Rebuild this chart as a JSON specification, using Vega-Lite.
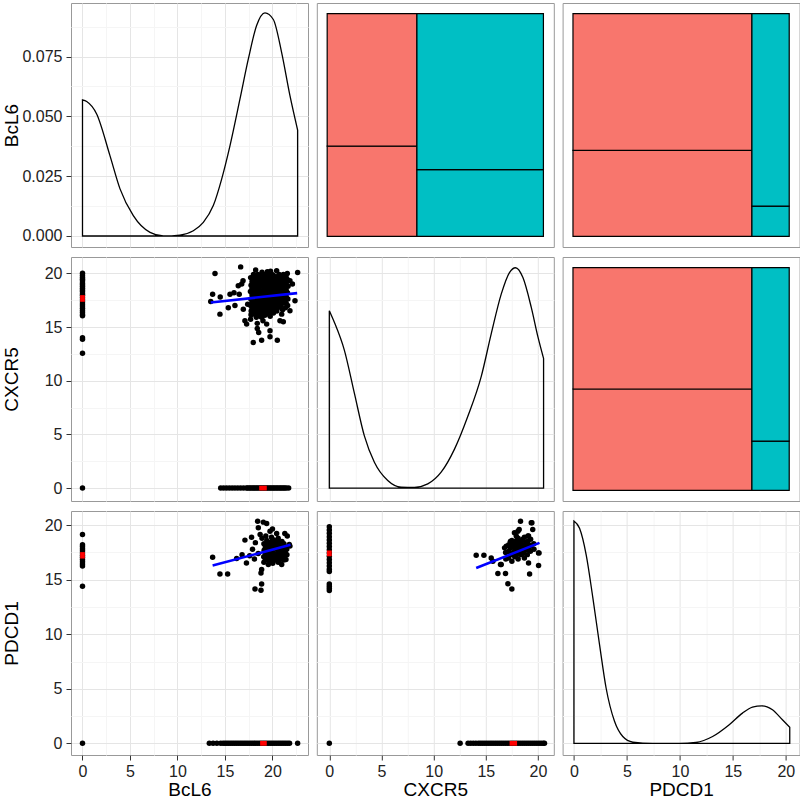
{
"$schema": "https://vega.github.io/schema/vega-lite/v6.json",
"padding": {"left": 1, "top": 2, "right": 0, "bottom": 0},
"config": {
  "view": {"stroke": "#999999", "strokeWidth": 1},
  "axis": {"labelFont": "Liberation Sans", "titleFont": "Liberation Sans", "labelFontSize": 16, "titleFontSize": 19, "titleFontWeight": "normal", "labelColor": "#222222", "titleColor": "#000000", "tickColor": "#333333", "tickSize": 5, "domain": false}
},
"datasets": {
  "d11": [{"x":0,"y":0.0569},{"x":0.44,"y":0.0562},{"x":1.49,"y":0.0510},{"x":2.89,"y":0.0336},{"x":3.95,"y":0.0197},{"x":5.35,"y":0.0085},{"x":7.11,"y":0.0015},{"x":8.51,"y":0.0},{"x":10.26,"y":0.0004},{"x":11.67,"y":0.0022},{"x":12.72,"y":0.0057},{"x":13.77,"y":0.0127},{"x":14.65,"y":0.0238},{"x":15.53,"y":0.0378},{"x":16.58,"y":0.0573},{"x":17.46,"y":0.0740},{"x":18.33,"y":0.0880},{"x":19.21,"y":0.0933},{"x":20.09,"y":0.0905},{"x":20.96,"y":0.0768},{"x":21.84,"y":0.0587},{"x":22.65,"y":0.0443}],
  "d22": [{"x":0,"y":16.52},{"x":0.48,"y":15.45},{"x":1.44,"y":12.85},{"x":2.4,"y":8.84},{"x":3.36,"y":4.86},{"x":4.32,"y":2.4},{"x":5.6,"y":0.7},{"x":6.88,"y":0.08},{"x":8.16,"y":0.06},{"x":9.44,"y":0.39},{"x":10.72,"y":1.48},{"x":12.0,"y":3.63},{"x":13.28,"y":6.69},{"x":14.56,"y":10.38},{"x":15.52,"y":14.36},{"x":16.48,"y":18.06},{"x":17.27,"y":20.07},{"x":17.85,"y":20.52},{"x":18.56,"y":19.6},{"x":19.36,"y":16.83},{"x":20.0,"y":14.08},{"x":20.54,"y":12.07}],
  "d33": [{"x":0,"y":20.38},{"x":0.53,"y":19.71},{"x":1.16,"y":17.26},{"x":1.79,"y":13.31},{"x":2.42,"y":9.03},{"x":3.04,"y":5.05},{"x":3.83,"y":2.02},{"x":4.61,"y":0.63},{"x":5.56,"y":0.12},{"x":7.44,"y":0},{"x":9.95,"y":0},{"x":11.52,"y":0.09},{"x":13.09,"y":0.63},{"x":14.66,"y":1.71},{"x":15.91,"y":2.77},{"x":16.85,"y":3.32},{"x":17.73,"y":3.44},{"x":18.74,"y":3.08},{"x":19.68,"y":2.16},{"x":20.37,"y":1.47}],
  "m12": [{"g":"a","x":0,"x2":0.415,"y":0,"y2":0.405},{"g":"a","x":0,"x2":0.415,"y":0.405,"y2":1},{"g":"b","x":0.415,"x2":1,"y":0,"y2":0.30},{"g":"b","x":0.415,"x2":1,"y":0.30,"y2":1}],
  "m13": [{"g":"a","x":0,"x2":0.8275,"y":0,"y2":0.386},{"g":"a","x":0,"x2":0.8275,"y":0.386,"y2":1},{"g":"b","x":0.8275,"x2":1,"y":0,"y2":0.136},{"g":"b","x":0.8275,"x2":1,"y":0.136,"y2":1}],
  "m23": [{"g":"a","x":0,"x2":0.8275,"y":0,"y2":0.455},{"g":"a","x":0,"x2":0.8275,"y":0.455,"y2":1},{"g":"b","x":0.8275,"x2":1,"y":0,"y2":0.221},{"g":"b","x":0.8275,"x2":1,"y":0.221,"y2":1}],
  "p21": [
    {"x":0,"y":20.0},{"x":0,"y":19.8},{"x":0,"y":19.6},{"x":0,"y":19.45},{"x":0,"y":19.3},{"x":0,"y":19.1},{"x":0,"y":18.95},{"x":0,"y":18.8},{"x":0,"y":18.6},{"x":0,"y":18.45},{"x":0,"y":18.3},{"x":0,"y":18.1},{"x":0,"y":17.95},{"x":0,"y":17.75},{"x":0,"y":17.55},{"x":0,"y":17.35},{"x":0,"y":17.15},{"x":0,"y":16.95},{"x":0,"y":16.75},{"x":0,"y":16.55},{"x":0,"y":16.35},{"x":0,"y":16.15},{"x":0,"y":16.05},{"x":0,"y":14.0},{"x":0,"y":13.85},{"x":0,"y":12.55},{"x":0,"y":0},
    {"x":14.55,"y":0},{"x":14.85,"y":0},{"x":15.15,"y":0},{"x":15.45,"y":0},{"x":15.75,"y":0},{"x":16.05,"y":0},{"x":16.35,"y":0},{"x":16.65,"y":0},{"x":16.95,"y":0},{"x":17.25,"y":0},{"x":17.4,"y":0},{"x":17.55,"y":0},{"x":17.7,"y":0},{"x":17.85,"y":0},{"x":18.0,"y":0},{"x":18.15,"y":0},{"x":18.3,"y":0},{"x":18.45,"y":0},{"x":18.6,"y":0},{"x":18.75,"y":0},{"x":18.9,"y":0},{"x":19.05,"y":0},{"x":19.2,"y":0},{"x":19.35,"y":0},{"x":19.5,"y":0},{"x":19.65,"y":0},{"x":19.8,"y":0},{"x":19.95,"y":0},{"x":20.1,"y":0},{"x":20.25,"y":0},{"x":20.4,"y":0},{"x":20.55,"y":0},{"x":20.7,"y":0},{"x":20.85,"y":0},{"x":21.0,"y":0},{"x":21.15,"y":0},{"x":21.3,"y":0},{"x":21.45,"y":0},{"x":21.7,"y":0},
    {"x":13.95,"y":19.98},{"x":16.65,"y":20.6},{"x":13.7,"y":18.06},{"x":13.5,"y":17.37},{"x":14.47,"y":16.2},{"x":14.5,"y":17.8},{"x":15.35,"y":16.8},{"x":15.95,"y":18.2},{"x":16.5,"y":18.06},{"x":16.76,"y":19.0},{"x":16.9,"y":19.3},{"x":16.05,"y":17.0},{"x":16.93,"y":16.66},{"x":17.1,"y":15.58},{"x":17.28,"y":15.27},{"x":18.23,"y":20.3},{"x":19.46,"y":20.14},{"x":20.44,"y":20.23},{"x":21.56,"y":19.98},{"x":22.65,"y":20.07},{"x":20.79,"y":15.58},{"x":21.14,"y":15.5},{"x":17.98,"y":13.56},{"x":18.86,"y":13.77},{"x":19.74,"y":14.65},{"x":19.74,"y":14.1},{"x":20.51,"y":13.77},{"x":18.4,"y":14.87},{"x":18.4,"y":15.34},{"x":17.7,"y":15.73},{"x":19.0,"y":15.58},{"x":15.53,"y":18.06},{"x":16.4,"y":18.85},{"x":17.39,"y":17.13},{"x":17.74,"y":16.14},{"x":18.0,"y":16.2},{"x":18.55,"y":14.49},{"x":19.39,"y":15.27},{"x":20.97,"y":16.2},{"x":21.84,"y":16.51},{"x":22.37,"y":17.44},{"x":22.1,"y":19.0},{"x":21.84,"y":19.3},
    {"x":17.7,"y":19.6},{"x":17.75,"y":18.9},{"x":17.68,"y":18.3},{"x":17.72,"y":17.6},{"x":17.7,"y":17.0},{"x":17.76,"y":16.5},
    {"x":18.0,"y":19.9},{"x":18.05,"y":19.3},{"x":17.98,"y":18.7},{"x":18.02,"y":18.1},{"x":18.0,"y":17.4},{"x":18.06,"y":16.8},
    {"x":18.3,"y":19.5},{"x":18.34,"y":19.0},{"x":18.28,"y":18.4},{"x":18.32,"y":17.8},{"x":18.3,"y":17.2},{"x":18.35,"y":16.6},{"x":18.3,"y":15.9},
    {"x":18.6,"y":19.8},{"x":18.64,"y":19.2},{"x":18.58,"y":18.6},{"x":18.62,"y":18.0},{"x":18.6,"y":17.5},{"x":18.66,"y":16.9},{"x":18.6,"y":16.3},
    {"x":18.9,"y":20.1},{"x":18.94,"y":19.5},{"x":18.88,"y":18.9},{"x":18.92,"y":18.3},{"x":18.9,"y":17.7},{"x":18.95,"y":17.1},{"x":18.9,"y":16.5},{"x":18.86,"y":15.9},
    {"x":19.2,"y":19.7},{"x":19.24,"y":19.1},{"x":19.18,"y":18.5},{"x":19.22,"y":17.9},{"x":19.2,"y":17.3},{"x":19.26,"y":16.8},{"x":19.2,"y":16.1},
    {"x":19.5,"y":19.9},{"x":19.54,"y":19.3},{"x":19.48,"y":18.8},{"x":19.52,"y":18.2},{"x":19.5,"y":17.6},{"x":19.56,"y":17.0},{"x":19.5,"y":16.4},
    {"x":19.8,"y":20.2},{"x":19.84,"y":19.6},{"x":19.78,"y":19.0},{"x":19.82,"y":18.4},{"x":19.8,"y":17.8},{"x":19.86,"y":17.2},{"x":19.8,"y":16.6},{"x":19.76,"y":16.0},
    {"x":20.1,"y":19.8},{"x":20.14,"y":19.2},{"x":20.08,"y":18.6},{"x":20.12,"y":18.0},{"x":20.1,"y":17.4},{"x":20.16,"y":16.9},{"x":20.1,"y":16.3},
    {"x":20.4,"y":19.5},{"x":20.44,"y":18.9},{"x":20.38,"y":18.3},{"x":20.42,"y":17.7},{"x":20.4,"y":17.1},{"x":20.46,"y":16.5},
    {"x":20.7,"y":19.9},{"x":20.74,"y":19.3},{"x":20.68,"y":18.7},{"x":20.72,"y":18.1},{"x":20.7,"y":17.5},{"x":20.76,"y":16.9},
    {"x":21.0,"y":19.6},{"x":21.04,"y":19.0},{"x":20.98,"y":18.4},{"x":21.02,"y":17.8},{"x":21.0,"y":17.2},{"x":21.06,"y":16.6},
    {"x":21.3,"y":19.8},{"x":21.34,"y":19.2},{"x":21.28,"y":18.6},{"x":21.32,"y":18.0},{"x":21.3,"y":17.4},{"x":21.36,"y":16.8},
    {"x":21.6,"y":19.4},{"x":21.64,"y":18.8},{"x":21.58,"y":18.2},{"x":21.62,"y":17.6},{"x":21.6,"y":17.0},
    {"x":17.85,"y":19.25},{"x":17.85,"y":18.6},{"x":17.85,"y":18.0},{"x":17.85,"y":17.3},{"x":17.85,"y":16.7},
    {"x":18.15,"y":19.6},{"x":18.15,"y":19.0},{"x":18.15,"y":18.4},{"x":18.15,"y":17.7},{"x":18.15,"y":17.1},{"x":18.15,"y":16.4},
    {"x":18.45,"y":19.9},{"x":18.45,"y":19.3},{"x":18.45,"y":18.7},{"x":18.45,"y":18.1},{"x":18.45,"y":17.5},{"x":18.45,"y":16.9},{"x":18.45,"y":16.2},
    {"x":18.75,"y":19.5},{"x":18.75,"y":18.9},{"x":18.75,"y":18.3},{"x":18.75,"y":17.8},{"x":18.75,"y":17.2},{"x":18.75,"y":16.6},{"x":18.75,"y":16.0},
    {"x":19.05,"y":19.9},{"x":19.05,"y":19.3},{"x":19.05,"y":18.7},{"x":19.05,"y":18.1},{"x":19.05,"y":17.5},{"x":19.05,"y":16.9},{"x":19.05,"y":16.3},
    {"x":19.35,"y":19.4},{"x":19.35,"y":18.8},{"x":19.35,"y":18.2},{"x":19.35,"y":17.6},{"x":19.35,"y":17.0},{"x":19.35,"y":16.6},
    {"x":19.65,"y":19.6},{"x":19.65,"y":19.0},{"x":19.65,"y":18.5},{"x":19.65,"y":17.9},{"x":19.65,"y":17.3},{"x":19.65,"y":16.7},{"x":19.65,"y":16.2},
    {"x":19.95,"y":19.9},{"x":19.95,"y":19.3},{"x":19.95,"y":18.7},{"x":19.95,"y":18.1},{"x":19.95,"y":17.5},{"x":19.95,"y":16.9},
    {"x":20.25,"y":19.5},{"x":20.25,"y":18.9},{"x":20.25,"y":18.3},{"x":20.25,"y":17.7},{"x":20.25,"y":17.1},{"x":20.25,"y":16.6},
    {"x":20.55,"y":19.7},{"x":20.55,"y":19.1},{"x":20.55,"y":18.5},{"x":20.55,"y":17.9},{"x":20.55,"y":17.3},{"x":20.55,"y":16.8},
    {"x":20.85,"y":19.4},{"x":20.85,"y":18.8},{"x":20.85,"y":18.2},{"x":20.85,"y":17.6},{"x":20.85,"y":17.0},
    {"x":21.15,"y":19.9},{"x":21.15,"y":19.3},{"x":21.15,"y":18.7},{"x":21.15,"y":18.1},{"x":21.15,"y":17.5},
    {"x":21.45,"y":19.6},{"x":21.45,"y":19.0},{"x":21.45,"y":18.4},{"x":21.45,"y":17.8},{"x":21.45,"y":17.2}
  ],
  "p31": [
    {"x":0,"y":19.15},{"x":0,"y":18.2},{"x":0,"y":18.05},{"x":0,"y":17.85},{"x":0,"y":17.65},{"x":0,"y":17.45},{"x":0,"y":17.25},{"x":0,"y":17.05},{"x":0,"y":16.85},{"x":0,"y":16.65},{"x":0,"y":16.45},{"x":0,"y":16.25},{"x":0,"y":14.4},{"x":0,"y":0},
    {"x":13.35,"y":0},{"x":13.75,"y":0},{"x":14.15,"y":0},{"x":14.55,"y":0},{"x":14.8,"y":0},{"x":15.0,"y":0},{"x":15.2,"y":0},{"x":15.4,"y":0},{"x":15.6,"y":0},{"x":15.8,"y":0},{"x":16.0,"y":0},{"x":16.2,"y":0},{"x":16.4,"y":0},{"x":16.6,"y":0},{"x":16.8,"y":0},{"x":17.0,"y":0},{"x":17.2,"y":0},{"x":17.4,"y":0},{"x":17.6,"y":0},{"x":17.8,"y":0},{"x":18.0,"y":0},{"x":18.2,"y":0},{"x":18.4,"y":0},{"x":18.6,"y":0},{"x":18.8,"y":0},{"x":19.0,"y":0},{"x":19.2,"y":0},{"x":19.4,"y":0},{"x":19.6,"y":0},{"x":19.8,"y":0},{"x":20.0,"y":0},{"x":20.2,"y":0},{"x":20.4,"y":0},{"x":20.6,"y":0},{"x":20.8,"y":0},{"x":21.0,"y":0},{"x":21.2,"y":0},{"x":21.4,"y":0},{"x":21.6,"y":0},{"x":21.8,"y":0},{"x":22.65,"y":0},
    {"x":13.7,"y":17.07},{"x":14.47,"y":15.53},{"x":15.28,"y":15.53},{"x":16.23,"y":16.94},{"x":17.1,"y":18.63},{"x":17.26,"y":16.54},{"x":18.16,"y":14.15},{"x":18.79,"y":14.03},{"x":18.86,"y":14.61},{"x":18.79,"y":15.62},{"x":18.86,"y":15.93},{"x":18.44,"y":20.37},{"x":19.04,"y":20.28},{"x":19.39,"y":20.16},{"x":18.51,"y":19.76},{"x":18.7,"y":19.15},{"x":19.74,"y":19.45},{"x":20.0,"y":19.66},{"x":20.44,"y":19.24},{"x":21.3,"y":19.24},{"x":21.56,"y":19.0},{"x":21.77,"y":18.24},{"x":21.84,"y":18.08},{"x":20.97,"y":16.39},{"x":21.42,"y":16.85},{"x":19.56,"y":16.39},
    {"x":16.8,"y":17.3},{"x":17.6,"y":17.2},{"x":17.9,"y":17.8},{"x":18.2,"y":18.4},{"x":18.1,"y":16.9},{"x":18.5,"y":17.4},{"x":17.8,"y":18.9},{"x":18.9,"y":18.8},{"x":19.3,"y":19.0},{"x":19.9,"y":18.9},{"x":20.6,"y":18.8},{"x":21.0,"y":18.5},
    {"x":19.1,"y":18.3},{"x":19.12,"y":17.7},{"x":19.08,"y":17.1},{"x":19.1,"y":16.6},
    {"x":19.4,"y":18.6},{"x":19.42,"y":18.0},{"x":19.38,"y":17.4},{"x":19.4,"y":16.9},
    {"x":19.7,"y":18.4},{"x":19.72,"y":17.8},{"x":19.68,"y":17.2},{"x":19.7,"y":16.7},
    {"x":20.0,"y":18.7},{"x":20.02,"y":18.1},{"x":19.98,"y":17.5},{"x":20.0,"y":17.0},{"x":20.03,"y":16.5},
    {"x":20.3,"y":18.4},{"x":20.32,"y":17.9},{"x":20.28,"y":17.3},{"x":20.3,"y":16.8},
    {"x":20.6,"y":18.2},{"x":20.62,"y":17.6},{"x":20.58,"y":17.1},{"x":20.6,"y":16.6},
    {"x":20.9,"y":18.0},{"x":20.92,"y":17.5},{"x":20.88,"y":17.0},
    {"x":21.2,"y":18.3},{"x":21.22,"y":17.7},{"x":21.18,"y":17.2},{"x":21.2,"y":16.8},
    {"x":21.5,"y":17.8},{"x":21.52,"y":17.3},
    {"x":19.25,"y":18.0},{"x":19.25,"y":17.4},{"x":19.25,"y":16.8},
    {"x":19.55,"y":18.2},{"x":19.55,"y":17.6},{"x":19.55,"y":17.0},
    {"x":19.85,"y":18.4},{"x":19.85,"y":17.8},{"x":19.85,"y":17.2},{"x":19.85,"y":16.8},
    {"x":20.15,"y":18.0},{"x":20.15,"y":17.4},{"x":20.15,"y":16.9},
    {"x":20.45,"y":18.6},{"x":20.45,"y":17.8},{"x":20.45,"y":17.2},
    {"x":20.75,"y":18.4},{"x":20.75,"y":17.8},{"x":20.75,"y":17.3},{"x":20.75,"y":16.8},
    {"x":21.05,"y":17.9},{"x":21.05,"y":17.4},
    {"x":21.35,"y":18.0},{"x":21.35,"y":17.5}
  ],
  "p32": [
    {"x":0,"y":19.85},{"x":0,"y":19.55},{"x":0,"y":19.25},{"x":0,"y":18.95},{"x":0,"y":18.65},{"x":0,"y":18.35},{"x":0,"y":18.05},{"x":0,"y":17.75},{"x":0,"y":17.45},{"x":0,"y":17.15},{"x":0,"y":16.85},{"x":0,"y":16.55},{"x":0,"y":16.25},{"x":0,"y":15.95},{"x":0,"y":15.75},{"x":0,"y":14.6},{"x":0,"y":14.4},{"x":0,"y":14.2},{"x":0,"y":14.0},{"x":0,"y":0},
    {"x":12.54,"y":0},{"x":13.3,"y":0},{"x":13.55,"y":0},{"x":13.8,"y":0},{"x":14.05,"y":0},{"x":14.3,"y":0},{"x":14.5,"y":0},{"x":14.7,"y":0},{"x":14.9,"y":0},{"x":15.1,"y":0},{"x":15.3,"y":0},{"x":15.5,"y":0},{"x":15.7,"y":0},{"x":15.9,"y":0},{"x":16.1,"y":0},{"x":16.3,"y":0},{"x":16.5,"y":0},{"x":16.7,"y":0},{"x":16.9,"y":0},{"x":17.1,"y":0},{"x":17.3,"y":0},{"x":17.5,"y":0},{"x":17.7,"y":0},{"x":17.9,"y":0},{"x":18.1,"y":0},{"x":18.3,"y":0},{"x":18.5,"y":0},{"x":18.7,"y":0},{"x":18.9,"y":0},{"x":19.1,"y":0},{"x":19.3,"y":0},{"x":19.5,"y":0},{"x":19.7,"y":0},{"x":19.9,"y":0},{"x":20.1,"y":0},{"x":20.3,"y":0},{"x":20.5,"y":0},{"x":20.63,"y":0},
    {"x":14.08,"y":17.25},{"x":14.82,"y":17.25},{"x":18.33,"y":20.37},{"x":19.42,"y":20.22},{"x":19.5,"y":19.6},{"x":19.1,"y":19.0},{"x":18.08,"y":19.45},{"x":17.92,"y":19.0},{"x":17.44,"y":18.38},{"x":16.96,"y":18.08},{"x":20.06,"y":17.46},{"x":20.06,"y":16.3},{"x":19.1,"y":16.54},{"x":19.2,"y":15.53},{"x":16.16,"y":15.56},{"x":16.89,"y":15.56},{"x":16.41,"y":16.39},{"x":15.52,"y":17.0},{"x":17.12,"y":14.64},{"x":17.5,"y":14.15},
    {"x":15.68,"y":16.7},{"x":16.48,"y":16.39},{"x":16.8,"y":17.92},{"x":17.75,"y":19.3},{"x":18.2,"y":19.6},{"x":19.04,"y":19.0},{"x":19.36,"y":20.22},{"x":20.1,"y":17.46},
    {"x":16.9,"y":17.5},{"x":16.92,"y":16.9},
    {"x":17.2,"y":18.2},{"x":17.22,"y":17.6},{"x":17.18,"y":17.0},
    {"x":17.5,"y":18.6},{"x":17.52,"y":18.0},{"x":17.48,"y":17.3},{"x":17.5,"y":16.7},
    {"x":17.8,"y":18.3},{"x":17.82,"y":17.7},{"x":17.78,"y":17.1},
    {"x":18.1,"y":18.8},{"x":18.12,"y":18.1},{"x":18.08,"y":17.5},{"x":18.1,"y":16.9},
    {"x":18.4,"y":18.5},{"x":18.42,"y":17.9},{"x":18.38,"y":17.3},
    {"x":18.7,"y":18.9},{"x":18.72,"y":18.2},{"x":18.68,"y":17.6},{"x":18.7,"y":17.0},
    {"x":19.0,"y":18.5},{"x":19.02,"y":17.9},{"x":18.98,"y":17.3},
    {"x":19.3,"y":18.7},{"x":19.32,"y":18.1},{"x":19.28,"y":17.6},
    {"x":19.6,"y":18.3},{"x":19.62,"y":17.8},
    {"x":17.35,"y":18.5},{"x":17.35,"y":17.9},{"x":17.35,"y":17.3},
    {"x":17.65,"y":18.0},{"x":17.65,"y":17.5},
    {"x":17.95,"y":18.6},{"x":17.95,"y":17.9},{"x":17.95,"y":17.3},
    {"x":18.25,"y":18.3},{"x":18.25,"y":17.7},
    {"x":18.55,"y":18.7},{"x":18.55,"y":18.0},{"x":18.55,"y":17.4},
    {"x":18.85,"y":18.4},{"x":18.85,"y":17.8},
    {"x":19.15,"y":18.2},{"x":19.15,"y":17.7}
  ],
  "r21": [{"x":-0.25,"x2":0.25,"y":17.35,"y2":17.97},{"x":18.6,"x2":19.4,"y":-0.22,"y2":0.22}],
  "r31": [{"x":-0.25,"x2":0.25,"y":16.94,"y2":17.53},{"x":18.7,"x2":19.4,"y":-0.22,"y2":0.22}],
  "r32": [{"x":-0.23,"x2":0.23,"y":17.16,"y2":17.67},{"x":17.28,"x2":18.0,"y":-0.22,"y2":0.22}],
  "l21": [{"x":13.5,"y":17.28},{"x":22.6,"y":18.16}],
  "l31": [{"x":13.7,"y":16.3},{"x":21.9,"y":18.2}],
  "l32": [{"x":14.08,"y":16.08},{"x":20.15,"y":18.38}]
},
"spacing": 8,
"vconcat": [
 {"hconcat": [
  {"width": 237, "height": 244, "data": {"name": "d11"},
   "mark": {"type": "area", "interpolate": "monotone", "fill": "white", "fillOpacity": 0, "stroke": "black", "strokeWidth": 1.3},
   "encoding": {
    "x": {"field": "x", "type": "quantitative", "scale": {"domain": [-1.21, 23.74], "nice": false, "zero": false},
          "axis": {"values": [0,2.5,5,7.5,10,12.5,15,17.5,20,22.5], "grid": true, "labels": false, "ticks": false, "title": null, "minExtent": 0, "maxExtent": 0, "gridColor": {"condition": {"test": "datum.value % 5 !== 0", "value": "#F5F5F5"}, "value": "#E5E5E5"}}},
    "y": {"field": "y", "type": "quantitative", "scale": {"domain": [-0.0046, 0.0974], "nice": false, "zero": false},
          "axis": {"values": [0,0.0125,0.025,0.0375,0.05,0.0625,0.075,0.0875], "grid": true, "title": "BcL6", "minExtent": 46, "maxExtent": 46, "titlePadding": 4, "labelPadding": 4, "labelOverlap": false,
                   "labelExpr": "round(datum.value*10000) % 250 === 0 ? format(datum.value, '.3f') : ''",
                   "tickOpacity": {"condition": {"test": "round(datum.value*10000) % 250 !== 0", "value": 0}, "value": 1},
                   "gridColor": {"condition": {"test": "round(datum.value*10000) % 250 !== 0", "value": "#F5F5F5"}, "value": "#E5E5E5"}}},
    "y2": {"datum": 0}
   }},
  {"width": 237, "height": 244, "data": {"name": "m12"},
   "mark": {"type": "rect", "stroke": "black", "strokeWidth": 1.2},
   "encoding": {
    "x": {"field": "x", "type": "quantitative", "scale": {"domain": [-0.048, 1.048], "nice": false, "zero": false}, "axis": null},
    "x2": {"field": "x2"},
    "y": {"field": "y", "type": "quantitative", "scale": {"domain": [-0.048, 1.048], "nice": false, "zero": false}, "axis": null},
    "y2": {"field": "y2"},
    "color": {"field": "g", "type": "nominal", "scale": {"domain": ["a", "b"], "range": ["#F8766D", "#00BFC4"]}, "legend": null}
   }},
  {"width": 237, "height": 244, "data": {"name": "m13"},
   "mark": {"type": "rect", "stroke": "black", "strokeWidth": 1.2},
   "encoding": {
    "x": {"field": "x", "type": "quantitative", "scale": {"domain": [-0.048, 1.048], "nice": false, "zero": false}, "axis": null},
    "x2": {"field": "x2"},
    "y": {"field": "y", "type": "quantitative", "scale": {"domain": [-0.048, 1.048], "nice": false, "zero": false}, "axis": null},
    "y2": {"field": "y2"},
    "color": {"field": "g", "type": "nominal", "scale": {"domain": ["a", "b"], "range": ["#F8766D", "#00BFC4"]}, "legend": null}
   }}
 ], "spacing": 6.8},
 {"hconcat": [
  {"width": 237, "height": 244,
   "encoding": {
    "x": {"field": "x", "type": "quantitative", "scale": {"domain": [-1.21, 23.74], "nice": false, "zero": false},
          "axis": {"values": [0,2.5,5,7.5,10,12.5,15,17.5,20,22.5], "grid": true, "labels": false, "ticks": false, "title": null, "minExtent": 0, "maxExtent": 0, "gridColor": {"condition": {"test": "datum.value % 5 !== 0", "value": "#F5F5F5"}, "value": "#E5E5E5"}}},
    "y": {"field": "y", "type": "quantitative", "scale": {"domain": [-1.2, 21.52], "nice": false, "zero": false},
          "axis": {"values": [0,2.5,5,7.5,10,12.5,15,17.5,20], "grid": true, "title": "CXCR5", "minExtent": 46, "maxExtent": 46, "titlePadding": 4, "labelPadding": 4, "labelOverlap": false,
                   "labelExpr": "datum.value % 5 === 0 ? format(datum.value, 'd') : ''",
                   "tickOpacity": {"condition": {"test": "datum.value % 5 !== 0", "value": 0}, "value": 1},
                   "gridColor": {"condition": {"test": "datum.value % 5 !== 0", "value": "#F5F5F5"}, "value": "#E5E5E5"}}}
   },
   "layer": [
    {"data": {"name": "p21"}, "mark": {"type": "circle", "size": 30, "color": "black", "opacity": 1}},
    {"data": {"name": "l21"}, "mark": {"type": "line", "color": "#0000FF", "strokeWidth": 2.6}},
    {"data": {"name": "r21"}, "mark": {"type": "rect", "color": "#FF0000"}, "encoding": {"x2": {"field": "x2"}, "y2": {"field": "y2"}}}
   ]},
  {"width": 237, "height": 244, "data": {"name": "d22"},
   "mark": {"type": "area", "interpolate": "monotone", "fill": "white", "fillOpacity": 0, "stroke": "black", "strokeWidth": 1.3},
   "encoding": {
    "x": {"field": "x", "type": "quantitative", "scale": {"domain": [-1.2, 21.52], "nice": false, "zero": false},
          "axis": {"values": [0,2.5,5,7.5,10,12.5,15,17.5,20], "grid": true, "labels": false, "ticks": false, "title": null, "minExtent": 0, "maxExtent": 0, "gridColor": {"condition": {"test": "datum.value % 5 !== 0", "value": "#F5F5F5"}, "value": "#E5E5E5"}}},
    "y": {"field": "y", "type": "quantitative", "scale": {"domain": [-1.2, 21.52], "nice": false, "zero": false},
          "axis": {"values": [0,2.5,5,7.5,10,12.5,15,17.5,20], "grid": true, "labels": false, "ticks": false, "title": null, "minExtent": 0, "maxExtent": 0, "gridColor": {"condition": {"test": "datum.value % 5 !== 0", "value": "#F5F5F5"}, "value": "#E5E5E5"}}},
    "y2": {"datum": 0}
   }},
  {"width": 237, "height": 244, "data": {"name": "m23"},
   "mark": {"type": "rect", "stroke": "black", "strokeWidth": 1.2},
   "encoding": {
    "x": {"field": "x", "type": "quantitative", "scale": {"domain": [-0.048, 1.048], "nice": false, "zero": false}, "axis": null},
    "x2": {"field": "x2"},
    "y": {"field": "y", "type": "quantitative", "scale": {"domain": [-0.048, 1.048], "nice": false, "zero": false}, "axis": null},
    "y2": {"field": "y2"},
    "color": {"field": "g", "type": "nominal", "scale": {"domain": ["a", "b"], "range": ["#F8766D", "#00BFC4"]}, "legend": null}
   }}
 ], "spacing": 6.8},
 {"hconcat": [
  {"width": 237, "height": 244,
   "encoding": {
    "x": {"field": "x", "type": "quantitative", "scale": {"domain": [-1.21, 23.74], "nice": false, "zero": false},
          "axis": {"values": [0,2.5,5,7.5,10,12.5,15,17.5,20,22.5], "grid": true, "title": "BcL6", "titlePadding": 1, "labelPadding": 3, "labelOverlap": false, "labelFlush": false,
                   "labelExpr": "datum.value % 5 === 0 ? format(datum.value, 'd') : ''",
                   "tickOpacity": {"condition": {"test": "datum.value % 5 !== 0", "value": 0}, "value": 1},
                   "gridColor": {"condition": {"test": "datum.value % 5 !== 0", "value": "#F5F5F5"}, "value": "#E5E5E5"}}},
    "y": {"field": "y", "type": "quantitative", "scale": {"domain": [-1.07, 21.3], "nice": false, "zero": false},
          "axis": {"values": [0,2.5,5,7.5,10,12.5,15,17.5,20], "grid": true, "title": "PDCD1", "minExtent": 46, "maxExtent": 46, "titlePadding": 4, "labelPadding": 4, "labelOverlap": false,
                   "labelExpr": "datum.value % 5 === 0 ? format(datum.value, 'd') : ''",
                   "tickOpacity": {"condition": {"test": "datum.value % 5 !== 0", "value": 0}, "value": 1},
                   "gridColor": {"condition": {"test": "datum.value % 5 !== 0", "value": "#F5F5F5"}, "value": "#E5E5E5"}}}
   },
   "layer": [
    {"data": {"name": "p31"}, "mark": {"type": "circle", "size": 30, "color": "black", "opacity": 1}},
    {"data": {"name": "l31"}, "mark": {"type": "line", "color": "#0000FF", "strokeWidth": 2.6}},
    {"data": {"name": "r31"}, "mark": {"type": "rect", "color": "#FF0000"}, "encoding": {"x2": {"field": "x2"}, "y2": {"field": "y2"}}}
   ]},
  {"width": 237, "height": 244,
   "encoding": {
    "x": {"field": "x", "type": "quantitative", "scale": {"domain": [-1.2, 21.52], "nice": false, "zero": false},
          "axis": {"values": [0,2.5,5,7.5,10,12.5,15,17.5,20], "grid": true, "title": "CXCR5", "titlePadding": 1, "labelPadding": 3, "labelOverlap": false, "labelFlush": false,
                   "labelExpr": "datum.value % 5 === 0 ? format(datum.value, 'd') : ''",
                   "tickOpacity": {"condition": {"test": "datum.value % 5 !== 0", "value": 0}, "value": 1},
                   "gridColor": {"condition": {"test": "datum.value % 5 !== 0", "value": "#F5F5F5"}, "value": "#E5E5E5"}}},
    "y": {"field": "y", "type": "quantitative", "scale": {"domain": [-1.07, 21.3], "nice": false, "zero": false},
          "axis": {"values": [0,2.5,5,7.5,10,12.5,15,17.5,20], "grid": true, "labels": false, "ticks": false, "title": null, "minExtent": 0, "maxExtent": 0, "gridColor": {"condition": {"test": "datum.value % 5 !== 0", "value": "#F5F5F5"}, "value": "#E5E5E5"}}}
   },
   "layer": [
    {"data": {"name": "p32"}, "mark": {"type": "circle", "size": 30, "color": "black", "opacity": 1}},
    {"data": {"name": "l32"}, "mark": {"type": "line", "color": "#0000FF", "strokeWidth": 2.6}},
    {"data": {"name": "r32"}, "mark": {"type": "rect", "color": "#FF0000"}, "encoding": {"x2": {"field": "x2"}, "y2": {"field": "y2"}}}
   ]},
  {"width": 237, "height": 244, "data": {"name": "d33"},
   "mark": {"type": "area", "interpolate": "monotone", "fill": "white", "fillOpacity": 0, "stroke": "black", "strokeWidth": 1.3},
   "encoding": {
    "x": {"field": "x", "type": "quantitative", "scale": {"domain": [-1.07, 21.3], "nice": false, "zero": false},
          "axis": {"values": [0,2.5,5,7.5,10,12.5,15,17.5,20], "grid": true, "title": "PDCD1", "titlePadding": 1, "labelPadding": 3, "labelOverlap": false, "labelFlush": false,
                   "labelExpr": "datum.value % 5 === 0 ? format(datum.value, 'd') : ''",
                   "tickOpacity": {"condition": {"test": "datum.value % 5 !== 0", "value": 0}, "value": 1},
                   "gridColor": {"condition": {"test": "datum.value % 5 !== 0", "value": "#F5F5F5"}, "value": "#E5E5E5"}}},
    "y": {"field": "y", "type": "quantitative", "scale": {"domain": [-1.07, 21.3], "nice": false, "zero": false},
          "axis": {"values": [0,2.5,5,7.5,10,12.5,15,17.5,20], "grid": true, "labels": false, "ticks": false, "title": null, "minExtent": 0, "maxExtent": 0, "gridColor": {"condition": {"test": "datum.value % 5 !== 0", "value": "#F5F5F5"}, "value": "#E5E5E5"}}},
    "y2": {"datum": 0}
   }}
 ], "spacing": 6.8}
]
}
